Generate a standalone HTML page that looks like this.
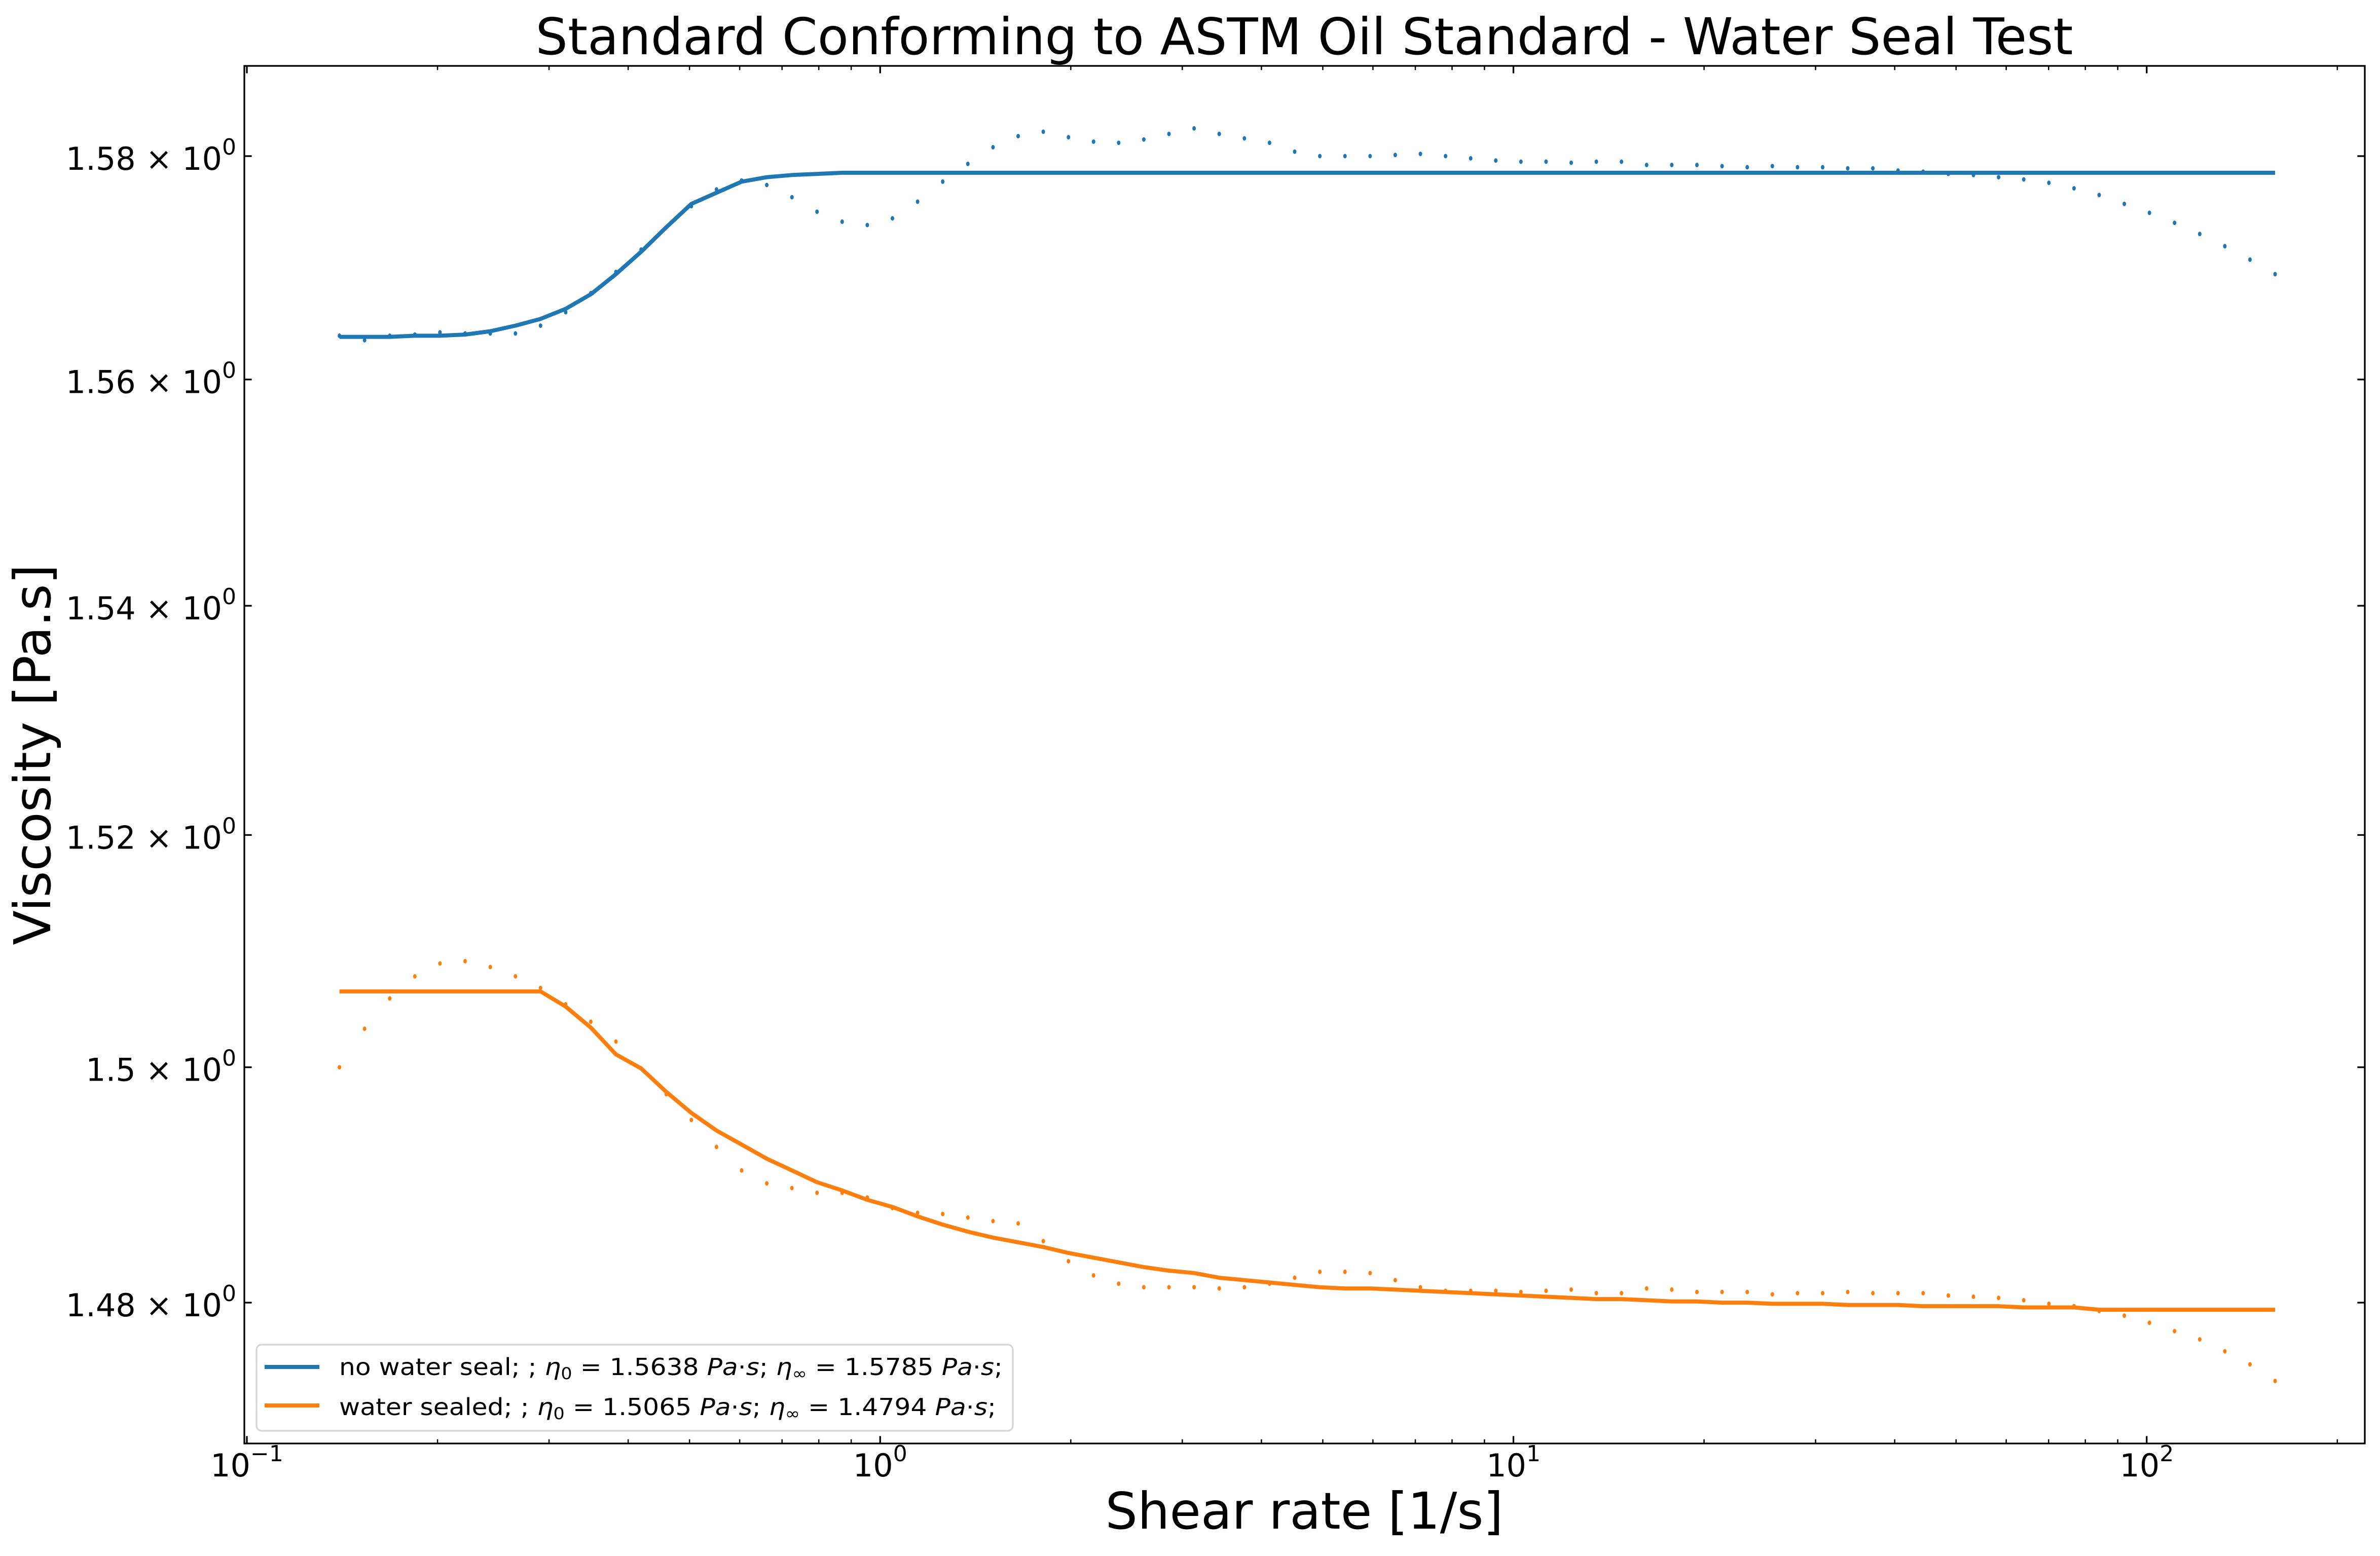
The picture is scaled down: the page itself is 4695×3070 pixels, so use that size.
<!DOCTYPE html>
<html>
<head>
<meta charset="utf-8">
<style>
  html, body { margin: 0; padding: 0; background: #ffffff; }
  svg { display: block; }
  text { font-family: "DejaVu Sans", "Liberation Sans", sans-serif; fill: #000; }
</style>
</head>
<body>
<svg id="chart" xmlns="http://www.w3.org/2000/svg" width="4695" height="3070" viewBox="0 0 4695 3070">
  <rect x="0" y="0" width="4695" height="3070" fill="#ffffff"/>
  <text x="2573" y="107" font-size="100" text-anchor="middle" textLength="3033" lengthAdjust="spacing">Standard Conforming to ASTM Oil Standard - Water Seal Test</text>
  <text x="2573" y="3016" font-size="100" text-anchor="middle">Shear rate [1/s]</text>
  <text x="99" y="1489" font-size="100" text-anchor="middle" transform="rotate(-90 99 1489)">Viscosity [Pa.s]</text>
  <g id="plot"></g>
  <g id="ticks"></g>
  <rect x="482" y="130" width="4183" height="2718" fill="none" stroke="#000" stroke-width="3.3"/>
  <g>
    <rect x="506" y="2653" width="1492" height="170" rx="10" ry="10" fill="#ffffff" fill-opacity="0.8" stroke="#d6d6d6" stroke-width="3.3"/>
    <line x1="522" y1="2697" x2="630" y2="2697" stroke="#1f77b4" stroke-width="8"/>
    <text x="669" y="2713" font-size="46" textLength="1309" lengthAdjust="spacingAndGlyphs">no water seal; ; <tspan font-style="italic">η</tspan><tspan font-size="32" dy="8">0</tspan><tspan dy="-8"> = 1.5638 </tspan><tspan font-style="italic">Pa</tspan>·<tspan font-style="italic">s</tspan>; <tspan font-style="italic">η</tspan><tspan font-size="32" dy="8">∞</tspan><tspan dy="-8"> = 1.5785 </tspan><tspan font-style="italic">Pa</tspan>·<tspan font-style="italic">s</tspan>;</text>
    <line x1="522" y1="2773" x2="630" y2="2773" stroke="#ff7f0e" stroke-width="8"/>
    <text x="669" y="2792" font-size="46" textLength="1296" lengthAdjust="spacingAndGlyphs">water sealed; ; <tspan font-style="italic">η</tspan><tspan font-size="32" dy="8">0</tspan><tspan dy="-8"> = 1.5065 </tspan><tspan font-style="italic">Pa</tspan>·<tspan font-style="italic">s</tspan>; <tspan font-style="italic">η</tspan><tspan font-size="32" dy="8">∞</tspan><tspan dy="-8"> = 1.4794 </tspan><tspan font-style="italic">Pa</tspan>·<tspan font-style="italic">s</tspan>;</text>
  </g>
</svg>
<script>
const shearRates = [0.1400,0.1534,0.1681,0.1842,0.2018,0.2211,0.2423,0.2655,0.2909,0.3187,
0.3492,0.3826,0.4193,0.4594,0.5033,0.5515,0.6043,0.6621,0.7255,0.7949,
0.8710,0.9544,1.0457,1.1458,1.2555,1.3756,1.5073,1.6516,1.8097,1.9829,
2.1727,2.3806,2.6085,2.8582,3.1318,3.4315,3.7600,4.1199,4.5142,4.9463,
5.4197,5.9385,6.5069,7.1297,7.8121,8.5599,9.3792,10.277,11.260,12.338,
13.519,14.813,16.231,17.785,19.487,21.352,23.396,25.635,28.089,30.778,
33.724,36.951,40.488,44.364,48.610,53.263,58.361,63.947,70.068,76.775,
84.123,92.175,100.998,110.665,121.26,132.86,145.58,159.51];

const noSealViscosity = [1.5639,1.5635,1.5639,1.5640,1.5642,1.5641,1.5641,1.5641,1.5648,1.5660,
1.5677,1.5696,1.5716,1.5736,1.5755,1.5770,1.5778,1.5774,1.5763,1.5750,
1.5741,1.5738,1.5744,1.5759,1.5777,1.5793,1.5808,1.5818,1.5822,1.5817,
1.5813,1.5812,1.5815,1.5820,1.5825,1.5820,1.5816,1.5812,1.5804,1.5800,
1.5800,1.5800,1.5801,1.5802,1.5800,1.5798,1.5796,1.5795,1.5795,1.5794,
1.5795,1.5795,1.5792,1.5792,1.5792,1.5791,1.5790,1.5791,1.5790,1.5790,
1.5789,1.5789,1.5787,1.5786,1.5784,1.5783,1.5781,1.5779,1.5776,1.5771,
1.5765,1.5757,1.5749,1.5740,1.5730,1.5719,1.5707,1.5694];

const sealedViscosity = [1.5000,1.5033,1.5059,1.5078,1.5089,1.5091,1.5086,1.5078,1.5068,1.5054,
1.5039,1.5022,1.4999,1.4977,1.4955,1.4932,1.4912,1.4901,1.4897,1.4893,
1.4893,1.4889,1.4880,1.4876,1.4875,1.4872,1.4869,1.4867,1.4852,1.4835,
1.4823,1.4816,1.4813,1.4813,1.4813,1.4812,1.4813,1.4816,1.4821,1.4826,
1.4826,1.4825,1.4819,1.4813,1.4810,1.4810,1.4810,1.4809,1.4810,1.4811,
1.4808,1.4808,1.4812,1.4811,1.4809,1.4809,1.4809,1.4807,1.4808,1.4808,
1.4809,1.4808,1.4808,1.4808,1.4806,1.4805,1.4804,1.4802,1.4799,1.4797,
1.4793,1.4789,1.4783,1.4776,1.4769,1.4759,1.4748,1.4734];

const noSealFit = [1.5638,1.5638,1.5638,1.5639,1.5639,1.5640,1.5643,1.5648,1.5654,1.5663,
1.5676,1.5694,1.5714,1.5736,1.5757,1.5767,1.5777,1.5781,1.5783,1.5784,
1.5785,1.5785,1.5785,1.5785,1.5785,1.5785,1.5785,1.5785,1.5785,1.5785,
1.5785,1.5785,1.5785,1.5785,1.5785,1.5785,1.5785,1.5785,1.5785,1.5785,
1.5785,1.5785,1.5785,1.5785,1.5785,1.5785,1.5785,1.5785,1.5785,1.5785,
1.5785,1.5785,1.5785,1.5785,1.5785,1.5785,1.5785,1.5785,1.5785,1.5785,
1.5785,1.5785,1.5785,1.5785,1.5785,1.5785,1.5785,1.5785,1.5785,1.5785,
1.5785,1.5785,1.5785,1.5785,1.5785,1.5785,1.5785,1.5785];

const sealedFit = [1.5065,1.5065,1.5065,1.5065,1.5065,1.5065,1.5065,1.5065,1.5065,1.5052,
1.5034,1.5011,1.4999,1.4979,1.4961,1.4946,1.4934,1.4922,1.4912,1.4902,
1.4895,1.4887,1.4881,1.4873,1.4866,1.4860,1.4855,1.4851,1.4847,1.4842,
1.4838,1.4834,1.4830,1.4827,1.4825,1.4821,1.4819,1.4817,1.4815,1.4813,
1.4812,1.4812,1.4811,1.4810,1.4809,1.4808,1.4807,1.4806,1.4805,1.4804,
1.4803,1.4803,1.4802,1.4801,1.4801,1.4800,1.4800,1.4799,1.4799,1.4799,
1.4798,1.4798,1.4798,1.4797,1.4797,1.4797,1.4797,1.4796,1.4796,1.4796,
1.4794,1.4794,1.4794,1.4794,1.4794,1.4794,1.4794,1.4794];

const xMajorTicks = [0.1, 1, 10, 100];
const xMajorExponents = ["−1", "0", "1", "2"];
const yTickValues = [1.48, 1.50, 1.52, 1.54, 1.56, 1.58];
const yTickMantissas = ["1.48", "1.5", "1.52", "1.54", "1.56", "1.58"];

const NS = "http://www.w3.org/2000/svg";
const AX = { left: 482, right: 4665, top: 130, bottom: 2848 };
const X_MIN = 0.09908, X_MAX = 221.0;
const Y_MIN = 1.46816, Y_MAX = 1.58815;

function xPix(v) {
  return AX.left + (Math.log10(v) - Math.log10(X_MIN)) / (Math.log10(X_MAX) - Math.log10(X_MIN)) * (AX.right - AX.left);
}
function yPix(v) {
  return AX.bottom - (Math.log(v) - Math.log(Y_MIN)) / (Math.log(Y_MAX) - Math.log(Y_MIN)) * (AX.bottom - AX.top);
}
function mk(tag, attrs, parent) {
  const el = document.createElementNS(NS, tag);
  for (const k in attrs) el.setAttribute(k, attrs[k]);
  parent.appendChild(el);
  return el;
}

const plot = document.getElementById("plot");
const ticks = document.getElementById("ticks");

function drawLine(values, color, name) {
  const pts = shearRates.map((x, i) => xPix(x).toFixed(1) + "," + yPix(values[i]).toFixed(1)).join(" ");
  const pl = mk("polyline", { points: pts, fill: "none", stroke: color, "stroke-width": 8, "stroke-linejoin": "round" }, plot);
  
  
}
function drawDots(values, color, name) {
  const g = mk("g", { fill: color }, plot);
  
  
  shearRates.forEach((x, i) => {
    const c = mk("ellipse", { cx: xPix(x).toFixed(1), cy: yPix(values[i]).toFixed(1), rx: 3.5, ry: 4.5 }, g);
    
    
  });
}

drawLine(noSealFit, "#1f77b4", "no-water-seal-fit-line");
drawLine(sealedFit, "#ff7f0e", "water-sealed-fit-line");
drawDots(noSealViscosity, "#1f77b4", "no-water-seal-points");
drawDots(sealedViscosity, "#ff7f0e", "water-sealed-points");

// x ticks (major + minor), inward on bottom and top
xMajorTicks.forEach((t, k) => {
  const x = xPix(t);
  let l = mk("line", { x1: x, y1: AX.bottom, x2: x, y2: AX.bottom - 14.6, stroke: "#000", "stroke-width": 3.3 }, ticks);
  
  
  l = mk("line", { x1: x, y1: AX.top, x2: x, y2: AX.top + 14.6, stroke: "#000", "stroke-width": 3.3 }, ticks);
  
  
  const tx = mk("text", { x: x, y: 2913, "font-size": 62, "text-anchor": "middle" }, ticks);
  
  
  tx.appendChild(document.createTextNode("10"));
  const sup = mk("tspan", { "font-size": 44, dy: -30 }, tx);
  sup.textContent = xMajorExponents[k];
  for (let m = 2; m <= 9; m++) {
    const v = t * m;
    if (v > X_MAX) break;
    const xm = xPix(v);
    let a = mk("line", { x1: xm, y1: AX.bottom, x2: xm, y2: AX.bottom - 8.3, stroke: "#000", "stroke-width": 2.5 }, ticks);
    
    
    a = mk("line", { x1: xm, y1: AX.top, x2: xm, y2: AX.top + 8.3, stroke: "#000", "stroke-width": 2.5 }, ticks);
    
    
  }
});

// y ticks, inward on left and right
yTickValues.forEach((v, k) => {
  const y = yPix(v);
  let l = mk("line", { x1: AX.left, y1: y, x2: AX.left + 14.6, y2: y, stroke: "#000", "stroke-width": 3.3 }, ticks);
  
  
  l = mk("line", { x1: AX.right, y1: y, x2: AX.right - 14.6, y2: y, stroke: "#000", "stroke-width": 3.3 }, ticks);
  
  
  const tx = mk("text", { x: 466, y: y + 27, "font-size": 62, "text-anchor": "end" }, ticks);
  
  
  tx.appendChild(document.createTextNode(yTickMantissas[k] + " × 10"));
  const sup = mk("tspan", { "font-size": 44, dy: -30 }, tx);
  sup.textContent = "0";
});
</script>
</body>
</html>
